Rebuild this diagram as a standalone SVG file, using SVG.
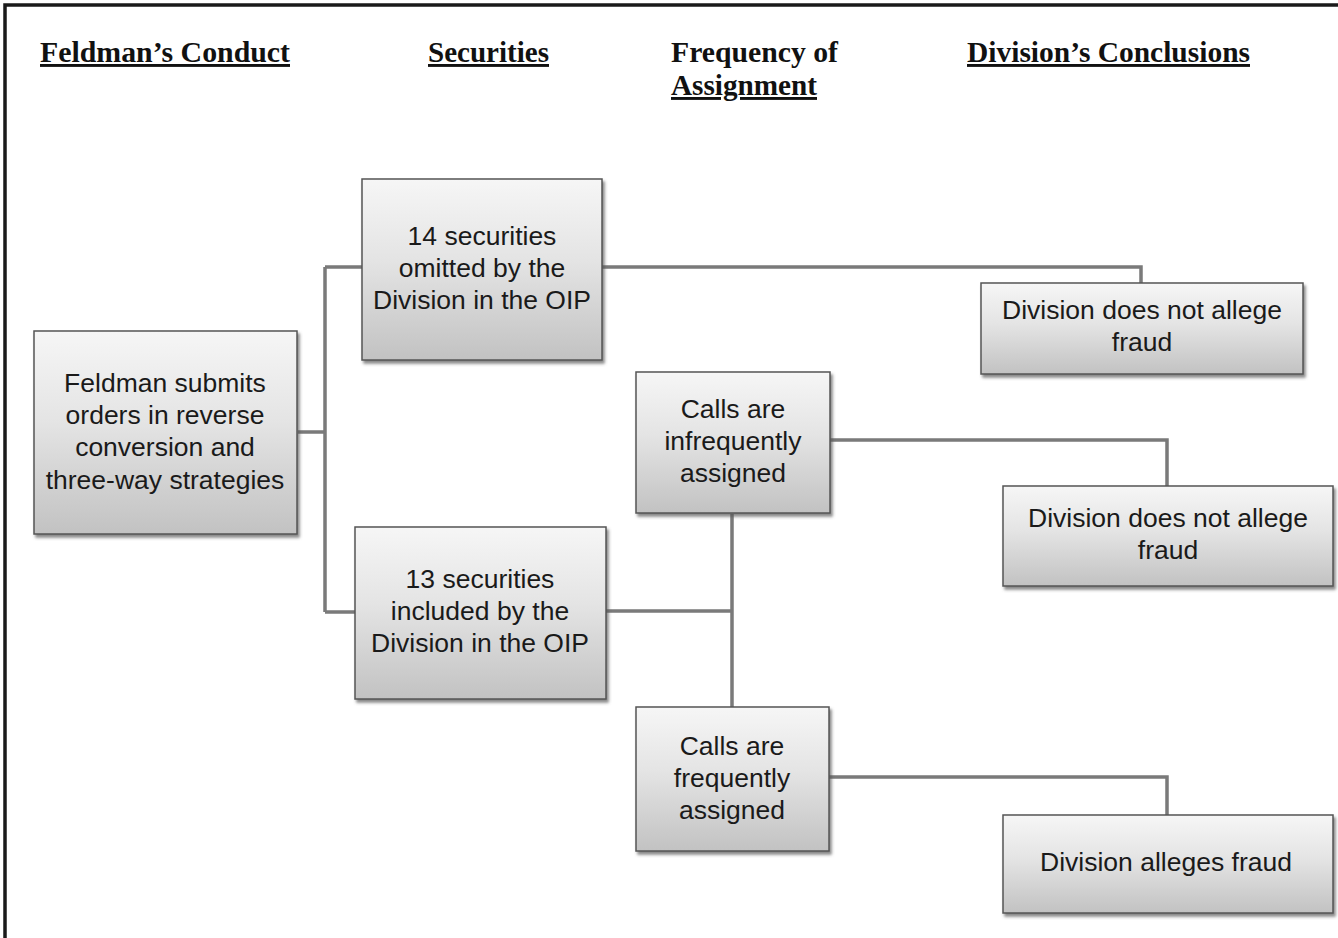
<svg xmlns="http://www.w3.org/2000/svg" width="1338" height="938" viewBox="0 0 1338 938">
<defs>
<linearGradient id="g" x1="0" y1="0" x2="0" y2="1">
<stop offset="0" stop-color="#f6f6f6"/>
<stop offset="0.45" stop-color="#e4e4e4"/>
<stop offset="1" stop-color="#c2c2c2"/>
</linearGradient>
<filter id="sh" x="-5%" y="-5%" width="115%" height="120%">
<feDropShadow dx="2" dy="3" stdDeviation="1.5" flood-color="#555" flood-opacity="0.7"/>
</filter>
</defs>
<style>
.hd{font-family:"Liberation Serif","Times New Roman",serif;font-weight:bold;font-size:29px;fill:#111;text-decoration:underline}
.hn{font-family:"Liberation Serif","Times New Roman",serif;font-weight:bold;font-size:29px;fill:#111}
.box{fill:url(#g);stroke:#555;stroke-width:1.5;filter:url(#sh)}
.t{font-family:"Liberation Sans",Arial,sans-serif;font-size:26.5px;fill:#1a1a1a;text-anchor:middle}
.c{fill:none;stroke:#7a7a7a;stroke-width:3.5}
.frame{fill:none;stroke:#1a1a1a;stroke-width:3.5}
</style>
<rect width="1338" height="938" fill="#fff"/>
<path class="frame" d="M5,938 V5 H1338"/>
<g id="headers">
<text class="hd" x="40" y="62" textLength="250" lengthAdjust="spacingAndGlyphs">Feldman’s Conduct</text>
<text class="hd" x="428" y="62" textLength="121" lengthAdjust="spacingAndGlyphs">Securities</text>
<text class="hn" x="671" y="62" textLength="167" lengthAdjust="spacingAndGlyphs">Frequency of</text>
<text class="hd" x="671" y="95" textLength="146" lengthAdjust="spacingAndGlyphs">Assignment</text>
<text class="hd" x="967" y="62" textLength="283" lengthAdjust="spacingAndGlyphs">Division’s Conclusions</text>
</g>
<g id="connectors">
<path class="c" d="M298,432 H325 M325,267 V612 M325,267 H362 M325,612 H355"/>
<path class="c" d="M602,267 H1141 V283"/>
<path class="c" d="M606,611 H732 M732,514 V707"/>
<path class="c" d="M830,440 H1167 V486"/>
<path class="c" d="M829,777 H1167 V815"/>
</g>
<g id="n-feldman">
<rect class="box" x="34" y="331" width="263" height="203"/>
<text class="t" x="165" y="392">Feldman submits</text>
<text class="t" x="165" y="424">orders in reverse</text>
<text class="t" x="165" y="456">conversion and</text>
<text class="t" x="165" y="489">three-way strategies</text>
</g>
<g id="n-14">
<rect class="box" x="362" y="179" width="240" height="181"/>
<text class="t" x="482" y="245">14 securities</text>
<text class="t" x="482" y="277">omitted by the</text>
<text class="t" x="482" y="309">Division in the OIP</text>
</g>
<g id="n-13">
<rect class="box" x="355" y="527" width="251" height="172"/>
<text class="t" x="480" y="588">13 securities</text>
<text class="t" x="480" y="620">included by the</text>
<text class="t" x="480" y="652">Division in the OIP</text>
</g>
<g id="n-infreq">
<rect class="box" x="636" y="372" width="194" height="141"/>
<text class="t" x="733" y="418">Calls are</text>
<text class="t" x="733" y="450">infrequently</text>
<text class="t" x="733" y="482">assigned</text>
</g>
<g id="n-freq">
<rect class="box" x="636" y="707" width="193" height="144"/>
<text class="t" x="732" y="755">Calls are</text>
<text class="t" x="732" y="787">frequently</text>
<text class="t" x="732" y="819">assigned</text>
</g>
<g id="n-c1">
<rect class="box" x="981" y="283" width="322" height="91"/>
<text class="t" x="1142" y="319">Division does not allege</text>
<text class="t" x="1142" y="351">fraud</text>
</g>
<g id="n-c2">
<rect class="box" x="1003" y="486" width="330" height="100"/>
<text class="t" x="1168" y="527">Division does not allege</text>
<text class="t" x="1168" y="559">fraud</text>
</g>
<g id="n-c3">
<rect class="box" x="1003" y="815" width="330" height="98"/>
<text class="t" x="1166" y="871">Division alleges fraud</text>
</g>
</svg>
